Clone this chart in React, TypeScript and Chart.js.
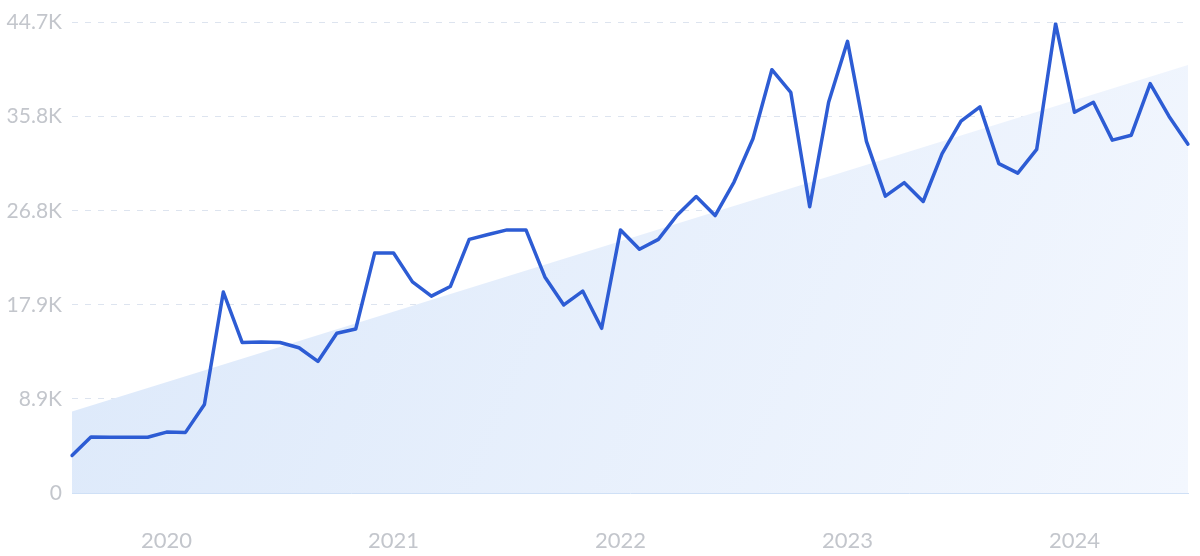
import React, { useEffect, useRef } from "react";
import { Chart, registerables } from "chart.js";

Chart.register(...registerables);

const categories = [
  "2019-08", "2019-09", "2019-10", "2019-11", "2019-12",
  "2020-01", "2020-02", "2020-03", "2020-04", "2020-05", "2020-06", "2020-07", "2020-08", "2020-09", "2020-10", "2020-11", "2020-12",
  "2021-01", "2021-02", "2021-03", "2021-04", "2021-05", "2021-06", "2021-07", "2021-08", "2021-09", "2021-10", "2021-11", "2021-12",
  "2022-01", "2022-02", "2022-03", "2022-04", "2022-05", "2022-06", "2022-07", "2022-08", "2022-09", "2022-10", "2022-11", "2022-12",
  "2023-01", "2023-02", "2023-03", "2023-04", "2023-05", "2023-06", "2023-07", "2023-08", "2023-09", "2023-10", "2023-11", "2023-12",
  "2024-01", "2024-02", "2024-03", "2024-04", "2024-05", "2024-06", "2024-07",
];

const searchVolume = [
  3570, 5320, 5300, 5300, 5300,
  5790, 5760, 8410, 19100, 14300, 14340, 14300, 13800, 12500, 15180, 15580, 22800,
  22800, 20060, 18710, 19620, 24100, 24570, 25000, 25000, 20530, 17870, 19190, 15650,
  25000, 23160, 24100, 26420, 28170, 26360, 29550, 33660, 40220, 38070, 27200, 37130,
  42920, 33420, 28210, 29490, 27700, 32250, 35340, 36690, 31300, 30400, 32650, 44600,
  36180, 37130, 33530, 34000, 38910, 35780, 33150,
];

const trendStart = 7740;
const trendEnd = 40660;

const yTickValues = [0, 8940, 17880, 26820, 35760, 44700];
const yTickLabels = ["0", "8.9K", "17.9K", "26.8K", "35.8K", "44.7K"];
const xTickLabels = ["2020", "2021", "2022", "2023", "2024"];

export default function App() {
  const canvasRef = useRef<HTMLCanvasElement | null>(null);

  useEffect(() => {
    const canvas = canvasRef.current;
    if (!canvas) return;

    const trendData = categories.map((_, i) =>
      i === 0 ? trendStart : i === categories.length - 1 ? trendEnd : null
    );

    const chart = new Chart(canvas, {
      type: "line",
      data: {
        labels: categories,
        datasets: [
          {
            label: "Search volume",
            data: searchVolume,
            borderColor: "#2d5cd4",
            borderWidth: 3.5,
            pointRadius: 0,
            tension: 0,
            fill: false,
            borderJoinStyle: "round",
            borderCapStyle: "round",
            order: 0,
          },
          {
            label: "Trend",
            data: trendData,
            spanGaps: true,
            borderWidth: 0,
            borderColor: "rgba(0,0,0,0)",
            pointRadius: 0,
            fill: "origin",
            order: 1,
            backgroundColor: (ctx: any) => {
              const c = ctx.chart;
              const area = c.chartArea;
              if (!area) return "rgba(220,233,250,0.9)";
              const g = c.ctx.createLinearGradient(area.left, area.top, area.right, area.bottom);
              g.addColorStop(0, "rgba(219,232,250,1)");
              g.addColorStop(1, "rgba(243,247,254,1)");
              return g;
            },
          },
        ],
      },
      options: {
        animation: false,
        responsive: false,
        maintainAspectRatio: false,
        layout: { autoPadding: false, padding: { top: 22, right: 12, left: 0, bottom: 0 } },
        plugins: {
          legend: { display: false },
          tooltip: { enabled: false },
        },
        scales: {
          x: {
            type: "category",
            offset: false,
            grid: { display: false, drawTicks: false },
            border: { display: true, color: "#cfe0f6", width: 1 },
            ticks: {
              autoSkip: false,
              maxRotation: 0,
              minRotation: 0,
              padding: 10,
              color: "#c3c6cc",
              font: { family: "Lato", size: 22, lineHeight: 3.45 },
              callback: (_v: any, i: number) => {
                const c = categories[i];
                if (c.endsWith("-01")) {
                  const y = c.slice(0, 4);
                  return xTickLabels.includes(y) ? y : "";
                }
                return "";
              },
            },
            afterFit: (scale: any) => {
              scale.height = 63;
            },
          },
          y: {
            min: 0,
            max: 44700,
            afterBuildTicks: (scale: any) => {
              scale.ticks = yTickValues.map((v) => ({ value: v }));
            },
            grid: {
              drawTicks: false,
              color: (ctx: any) =>
                ctx.tick && ctx.tick.value === 0 ? "rgba(0,0,0,0)" : "#dde4ef",
              lineWidth: 1,
            },
            border: { display: false, dash: [6, 7] },
            ticks: {
              padding: 10,
              color: "#c3c6cc",
              font: { family: "Lato", size: 21 },
              callback: (v: any) => {
                const idx = yTickValues.indexOf(Number(v));
                return idx >= 0 ? yTickLabels[idx] : "";
              },
            },
            afterFit: (scale: any) => {
              scale.width = 72;
            },
          },
        },
      },
    });

    return () => chart.destroy();
  }, []);

  return (
    <div style={{ position: "absolute", left: 0, top: 0, width: 1200, height: 556, background: "#ffffff" }}>
      <canvas ref={canvasRef} width={1200} height={556} style={{ width: 1200, height: 556, display: "block" }} />
    </div>
  );
}
